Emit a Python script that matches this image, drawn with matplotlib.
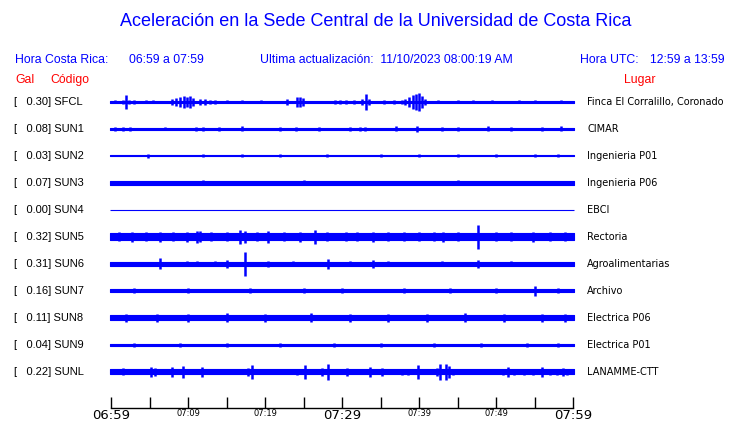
import matplotlib
matplotlib.use("Agg")
import matplotlib.pyplot as plt

# station data: code, peak acceleration (gal), place
codes = ["SFCL", "SUN1", "SUN2", "SUN3", "SUN4", "SUN5",
         "SUN6", "SUN7", "SUN8", "SUN9", "SUNL"]
gals = [0.30, 0.08, 0.03, 0.07, 0.00, 0.32, 0.31, 0.16, 0.11, 0.04, 0.22]
places = ["Finca El Corralillo, Coronado", "CIMAR", "Ingenieria P01",
          "Ingenieria P06", "EBCI", "Rectoria", "Agroalimentarias",
          "Archivo", "Electrica P06", "Electrica P01", "LANAMME-CTT"]

# background noise half-width of each trace (px)
base_amp = [0.7, 1.2, 0.5, 2.0, 0.4, 3.5, 2.0, 1.5, 2.5, 1.0, 2.5]

# bursts: (minutes after 06:59, half amplitude px)
peaks = [
    [(0.5, 1.5), (1.5, 2), (1.95, 7), (2.4, 2), (3, 2), (4.5, 1.5),
     (5.5, 1.5), (7.9, 3), (8.4, 4), (9.0, 5), (9.5, 6), (9.9, 5),
     (10.3, 6), (10.6, 4), (11.6, 3), (12.2, 3), (12.9, 2), (13.5, 2),
     (15, 1.5), (17, 1.5), (19.5, 1.5), (22.9, 3), (24.2, 5), (24.5, 5),
     (24.9, 4), (29.1, 2), (29.7, 2), (30.5, 2), (31.5, 2), (32.6, 3),
     (33.1, 8), (33.5, 3), (35.5, 2), (36.8, 2), (37.8, 2), (38.2, 3),
     (38.7, 5), (39.2, 7), (39.6, 8), (40.0, 9), (40.4, 6), (40.8, 3),
     (42.5, 1.5), (45, 1.5), (47, 1.5), (49.5, 1.5), (53, 1.5), (55, 1.5),
     (58.5, 1.5)],
    [(0.5, 2), (1.5, 2), (2.5, 2), (7, 1.5), (11, 2), (12, 2), (14, 2),
     (17, 2.5), (22, 2), (24, 2), (27, 2), (31, 2), (32.3, 2), (33, 2),
     (37, 2.5), (39.7, 3), (43, 2), (45, 2), (49, 2.5), (52, 2), (56, 2),
     (58.5, 2.5)],
    [(4.8, 2), (12, 1.5), (17, 1.5), (22, 1.5), (28, 1.5), (35, 1.5),
     (40, 1.5), (45, 1.5), (50, 1.5), (55, 1.5), (58, 1.5)],
    [(12, 2.5), (25, 2.5), (45, 2.5)],
    [],
    [(1, 4.5), (2.7, 5), (4.5, 4.5), (6.4, 5), (8, 4.5), (9.9, 5),
     (11.2, 6), (11.5, 5.5), (13, 4.5), (15, 4.5), (16.8, 7), (17.4, 6),
     (19, 4.5), (20.4, 6), (22.5, 4.5), (24.5, 5), (26.5, 7), (28, 4.5),
     (30.5, 4.5), (32, 4.5), (34, 5), (36, 4.5), (38, 4.5), (40, 4.5),
     (42, 4.5), (43.1, 5), (45, 4.5), (47.7, 12), (50, 4.5), (52, 4.5),
     (54.8, 5), (57, 4.5), (59, 4.5)],
    [(6.3, 5.5), (9.9, 2.5), (11.2, 2.5), (13.5, 2.5), (15.1, 4),
     (17.4, 12), (20.4, 3), (23.6, 2.5), (28.2, 5), (31, 2.5), (34, 4),
     (36, 2.5), (43, 2.5), (47.7, 4), (52, 2.5)],
    [(3, 2.5), (10, 2.5), (18, 2.5), (25, 2.5), (30, 2.5), (38, 2.5),
     (44, 2.5), (50, 2.5), (55.1, 5), (58, 2.5)],
    [(2, 4), (6, 4), (10, 4), (15, 4.5), (20, 4), (26, 4.5), (31, 4),
     (36, 4), (41, 4), (46, 4.5), (51, 4), (56, 4), (59, 4)],
    [(3, 2), (9, 2), (15, 2), (22, 2), (29, 2), (35, 2), (42, 2), (48, 2),
     (54, 2), (58, 2)],
    [(1.6, 3.5), (5.2, 5), (5.7, 4), (7.9, 5), (9.3, 6), (11.8, 5),
     (17.8, 4), (18.3, 7), (24.1, 3), (25.2, 7), (27.4, 4), (28.2, 8),
     (30.6, 4), (33.6, 5), (35.2, 4), (37.8, 3), (38.6, 3), (39.9, 7),
     (42.3, 4), (42.7, 8), (43.5, 8), (43.9, 6), (44.4, 3), (50.9, 3),
     (51.6, 5), (52.3, 3), (53.6, 3), (54.8, 3), (56, 5), (57, 3),
     (57.9, 3), (58.7, 4), (59.2, 3)],
]

tick_min = [0, 5, 10, 15, 20, 25, 30, 35, 40, 45, 50, 55, 60]
tick_lab = ["06:59", "", "07:09", "", "07:19", "", "07:29", "",
            "07:39", "", "07:49", "", "07:59"]

W, H = 740, 423
BLUE = "#0000ff"
RED = "#ff0000"

fig = plt.figure(figsize=(W / 100, H / 100), dpi=100)


def ftext(x, y, s, **kw):
    # place text in pixel coords measured from the top-left corner
    fig.text(x / W, 1 - y / H, s, **kw)


sans = "Liberation Sans"
ftext(376, 22, "Aceleración en la Sede Central de la Universidad de Costa Rica",
      color=BLUE, fontsize=13, family=sans, ha="center", va="center")
ftext(15, 60, "Hora Costa Rica:", color=BLUE, fontsize=8.8, family=sans,
      va="center")
ftext(129, 60, "06:59 a 07:59", color=BLUE, fontsize=8.8, family=sans,
      va="center")
ftext(260, 60, "Ultima actualización:  11/10/2023 08:00:19 AM", color=BLUE,
      fontsize=8.8, family=sans, va="center")
ftext(580, 60, "Hora UTC:", color=BLUE, fontsize=8.8, family=sans,
      va="center")
ftext(650, 60, "12:59 a 13:59", color=BLUE, fontsize=8.8, family=sans,
      va="center")
ftext(15, 80, "Gal", color=RED, fontsize=8.8, family=sans, va="center")
ftext(50, 80, "Código", color=RED, fontsize=8.8, family=sans, va="center")
ftext(624, 80, "Lugar", color=RED, fontsize=8.8, family=sans, va="center")

top, bottom = 88, 408
ax = fig.add_axes([111 / W, 1 - bottom / H, 462 / W, (bottom - top) / H])
ax.set_xlim(0, 60)
ax.set_ylim(bottom, top)

for i, code in enumerate(codes):
    yc = 102 + 27 * i
    ax.fill_between([-0.1, 60.1], yc - base_amp[i], yc + base_amp[i],
                    color=BLUE, lw=0.8, clip_on=False)
    if peaks[i]:
        xs = [p[0] for p in peaks[i]]
        amps = [p[1] for p in peaks[i]]
        ax.vlines(xs, [yc - a for a in amps], [yc + a for a in amps],
                  color=BLUE, lw=1.8)
    ftext(14, yc, "[   %.2f] %s" % (gals[i], code), fontsize=8,
          family=sans, va="center")
    ftext(587, yc, places[i], fontsize=7, family="DejaVu Sans", va="center")

for s in ["top", "left", "right"]:
    ax.spines[s].set_visible(False)
ax.spines["bottom"].set_linewidth(1.0)
ax.set_yticks([])
ax.set_xticks(tick_min)
ax.set_xticklabels(tick_lab)
ax.tick_params(axis="x", direction="in", length=8, width=1.0, pad=1)
for k, lab in enumerate(ax.get_xticklabels()):
    if tick_min[k] % 30 == 0:
        lab.set_fontsize(9.5)
    else:
        lab.set_fontsize(6)

fig.savefig("out.png", dpi=100)
